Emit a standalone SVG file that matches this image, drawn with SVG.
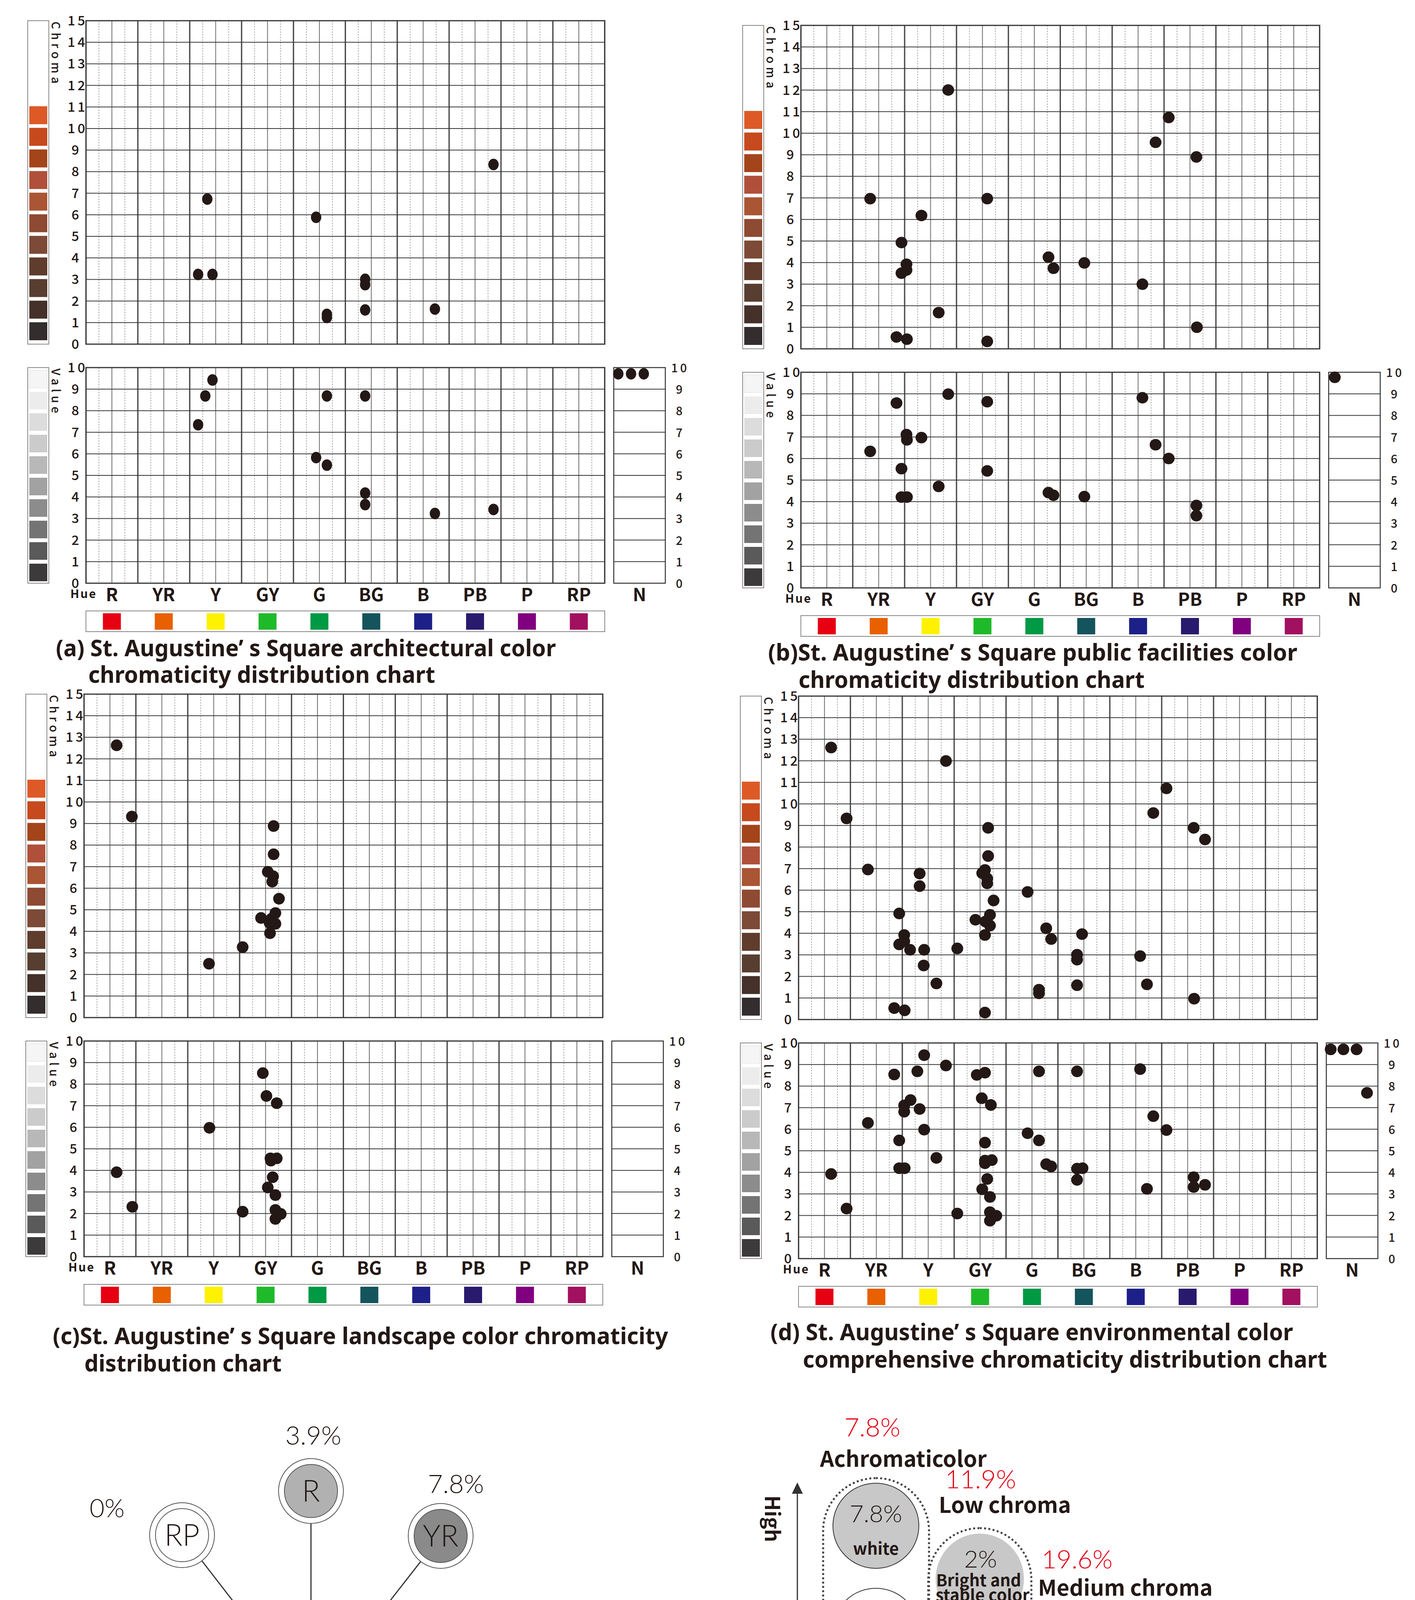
<svg xmlns="http://www.w3.org/2000/svg" xmlns:xlink="http://www.w3.org/1999/xlink" width="3622" height="5414" viewBox="0 0 3622 5414">
<style>
.dot circle{fill:#231815;r:13px}
.cap{font-family:"Noto Sans","Liberation Sans",sans-serif;font-weight:700;font-size:60px;fill:#231815}
.num{font-family:"Noto Sans CJK SC","Noto Sans",sans-serif;font-weight:500;font-size:34px;letter-spacing:6px;fill:#231815}
.hue{font-family:"Noto Sans CJK SC","Noto Sans",sans-serif;font-weight:700;font-size:46px;text-anchor:middle;fill:#231815}
.pct{font-family:"Lato","Liberation Sans",sans-serif;font-weight:300;font-size:66px;text-anchor:middle;fill:#231815}
.red{fill:#e60012}
.lbl{font-family:"Noto Sans CJK SC","Noto Sans",sans-serif;font-weight:700;font-size:42px;text-anchor:middle;fill:#231815}
.hd{font-family:"Noto Sans CJK SC","Noto Sans",sans-serif;font-weight:700;font-size:56px;fill:#231815}
.sat{font-family:"Lato","Liberation Sans",sans-serif;font-weight:300;font-size:76px;text-anchor:middle;fill:#231815}
.pill{fill:none;stroke:#444;stroke-width:5;stroke-dasharray:5 6}
.ln{stroke:#333;stroke-width:3;fill:none}
</style>
<defs>
<pattern id="gridC" patternUnits="userSpaceOnUse" x="0" y="0" width="132.8" height="55.2">
<line x1="0" y1="0" x2="0" y2="55.2" stroke="#333" stroke-width="3"/>
<line x1="132.8" y1="0" x2="132.8" y2="55.2" stroke="#333" stroke-width="3"/>
<line x1="66.4" y1="0" x2="66.4" y2="55.2" stroke="#444" stroke-width="1.6"/>
<line x1="33.2" y1="0" x2="33.2" y2="55.2" stroke="#666" stroke-width="1.2" stroke-dasharray="3.45 3.45"/>
<line x1="99.6" y1="0" x2="99.6" y2="55.2" stroke="#666" stroke-width="1.2" stroke-dasharray="3.45 3.45"/>
<line x1="0" y1="0" x2="132.8" y2="0" stroke="#333" stroke-width="2"/>
<line x1="0" y1="55.2" x2="132.8" y2="55.2" stroke="#333" stroke-width="2"/>
</pattern>
<pattern id="gridV" href="#gridC" xlink:href="#gridC" y="888"/>
<g id="tpl">
<rect x="0" y="0" width="1328" height="828" fill="url(#gridC)" stroke="#333" stroke-width="3"/>
<rect x="0" y="888" width="1328" height="552" fill="url(#gridV)" stroke="#333" stroke-width="3"/>
<rect x="-149" y="0" width="54" height="828" fill="#fff" stroke="#888" stroke-width="2"/>
<rect x="-145" y="219" width="46" height="46" fill="#dd5a26"/>
<rect x="-145" y="274.3" width="46" height="46" fill="#c64a1e"/>
<rect x="-145" y="329.6" width="46" height="46" fill="#a4441a"/>
<rect x="-145" y="384.9" width="46" height="46" fill="#b0503a"/>
<rect x="-145" y="440.2" width="46" height="46" fill="#aa5534"/>
<rect x="-145" y="495.5" width="46" height="46" fill="#8e4a32"/>
<rect x="-145" y="550.8" width="46" height="46" fill="#7c4a36"/>
<rect x="-145" y="606.1" width="46" height="46" fill="#603c2c"/>
<rect x="-145" y="661.4" width="46" height="46" fill="#573e30"/>
<rect x="-145" y="716.7" width="46" height="46" fill="#45312a"/>
<rect x="-145" y="772" width="46" height="46" fill="#332d2d"/>
<rect x="-149" y="888" width="54" height="552" fill="#fff" stroke="#888" stroke-width="2"/>
<rect x="-145" y="895" width="46" height="45" fill="#f5f5f5" stroke="#ddd"/>
<rect x="-145" y="950" width="46" height="45" fill="#ececec"/>
<rect x="-145" y="1005" width="46" height="45" fill="#dcdcdc"/>
<rect x="-145" y="1060" width="46" height="45" fill="#cbcbcb"/>
<rect x="-145" y="1115" width="46" height="45" fill="#b8b8b8"/>
<rect x="-145" y="1170" width="46" height="45" fill="#a2a2a2"/>
<rect x="-145" y="1225" width="46" height="45" fill="#8c8c8c"/>
<rect x="-145" y="1280" width="46" height="45" fill="#747474"/>
<rect x="-145" y="1335" width="46" height="45" fill="#5a5a5a"/>
<rect x="-145" y="1390" width="46" height="45" fill="#3c3a3a"/>
<text class="num" transform="translate(-88,2) rotate(90)" style="font-size:30px;letter-spacing:9px">Chroma</text>
<text class="num" transform="translate(-88,890) rotate(90)" style="font-size:30px;letter-spacing:9px">Value</text>
<g class="num">
<text x="-47" y="12">15</text><text x="-47" y="67.2">14</text><text x="-47" y="122.4">13</text><text x="-47" y="177.6">12</text><text x="-47" y="232.8">11</text><text x="-47" y="288">10</text>
<text x="-37" y="343.2">9</text><text x="-37" y="398.4">8</text><text x="-37" y="453.6">7</text><text x="-37" y="508.8">6</text><text x="-37" y="564">5</text><text x="-37" y="619.2">4</text><text x="-37" y="674.4">3</text><text x="-37" y="729.6">2</text><text x="-37" y="784.8">1</text><text x="-37" y="840">0</text>
<text x="-47" y="900">10</text><text x="-37" y="955.2">9</text><text x="-37" y="1010.4">8</text><text x="-37" y="1065.6">7</text><text x="-37" y="1120.8">6</text><text x="-37" y="1176">5</text><text x="-37" y="1231.2">4</text><text x="-37" y="1286.4">3</text><text x="-37" y="1341.6">2</text><text x="-37" y="1396.8">1</text><text x="-37" y="1452">0</text>
</g>
<g>
<rect x="1351" y="888" width="132" height="552" fill="#fff" stroke="#333" stroke-width="2.5"/>
<path d="M1351 943.2H1483M1351 998.4H1483M1351 1053.6H1483M1351 1108.8H1483M1351 1164H1483M1351 1219.2H1483M1351 1274.4H1483M1351 1329.6H1483M1351 1384.8H1483" stroke="#333" stroke-width="2"/>
<g class="num" style="font-size:30px">
<text x="1498" y="900">10</text><text x="1510" y="955.2">9</text><text x="1510" y="1010.4">8</text><text x="1510" y="1065.6">7</text><text x="1510" y="1120.8">6</text><text x="1510" y="1176">5</text><text x="1510" y="1231.2">4</text><text x="1510" y="1286.4">3</text><text x="1510" y="1341.6">2</text><text x="1510" y="1396.8">1</text><text x="1510" y="1452">0</text>
</g>
</g>
<text class="num" x="-40" y="1478" style="font-size:30px;font-weight:700;letter-spacing:3px">Hue</text>
<g class="hue">
<text x="66.4" y="1486">R</text><text x="199.2" y="1486">YR</text><text x="332" y="1486">Y</text><text x="464.8" y="1486">GY</text><text x="597.6" y="1486">G</text><text x="730.4" y="1486">BG</text><text x="863.2" y="1486">B</text><text x="996" y="1486">PB</text><text x="1128.8" y="1486">P</text><text x="1261.6" y="1486">RP</text><text x="1417" y="1486">N</text>
</g>
<rect x="0" y="1511" width="1328" height="53" fill="#fff" stroke="#888" stroke-width="2"/>
<rect x="43.4" y="1517" width="46" height="42" fill="#e60012"/>
<rect x="176.2" y="1517" width="46" height="42" fill="#e86000"/>
<rect x="309" y="1517" width="46" height="42" fill="#fff100"/>
<rect x="441.8" y="1517" width="46" height="42" fill="#1fba2a"/>
<rect x="574.6" y="1517" width="46" height="42" fill="#009944"/>
<rect x="707.4" y="1517" width="46" height="42" fill="#14545c"/>
<rect x="840.2" y="1517" width="46" height="42" fill="#1d2088"/>
<rect x="973" y="1517" width="46" height="42" fill="#2a1a6e"/>
<rect x="1105.8" y="1517" width="46" height="42" fill="#800080"/>
<rect x="1238.6" y="1517" width="46" height="42" fill="#a21060"/>
</g>
</defs>

<g id="chart-a">
<use href="#tpl" xlink:href="#tpl" x="220" y="53"/>
<g transform="scale(1.0204,1.1351)" class="dot">
<circle cx="520" cy="449" r="13"/><circle cx="497" cy="619" r="13"/><circle cx="533" cy="619" r="13"/><circle cx="793" cy="490" r="13"/><circle cx="820" cy="709" r="13"/><circle cx="820" cy="716" r="13"/><circle cx="916" cy="630" r="13"/><circle cx="916" cy="642" r="13"/><circle cx="916" cy="699" r="13"/><circle cx="1091" cy="697" r="13"/><circle cx="1238" cy="371" r="13"/>
<circle cx="533" cy="857" r="13"/><circle cx="515" cy="893" r="13"/><circle cx="497" cy="958" r="13"/><circle cx="820" cy="893" r="13"/><circle cx="916" cy="893" r="13"/><circle cx="793" cy="1032" r="13"/><circle cx="820" cy="1049" r="13"/><circle cx="916" cy="1112" r="13"/><circle cx="916" cy="1138" r="13"/><circle cx="1091" cy="1158" r="13"/><circle cx="1238" cy="1149" r="13"/>
<circle cx="1551" cy="843" r="13"/><circle cx="1583" cy="843" r="13"/><circle cx="1615" cy="843" r="13"/>
</g>
<text class="cap" x="143" y="1680" textLength="1280" lengthAdjust="spacingAndGlyphs">(a) St. Augustine’ s Square architectural color</text>
<text class="cap" x="226" y="1748" textLength="888" lengthAdjust="spacingAndGlyphs">chromaticity distribution chart</text>
</g>

<g id="chart-b">
<use href="#tpl" xlink:href="#tpl" x="2050" y="65"/>
<g transform="translate(1800,0) scale(1.1614,1.1351)" class="dot">
<circle cx="540" cy="203" r="13"/><circle cx="1026" cy="265" r="13"/><circle cx="997" cy="321" r="13"/><circle cx="1087" cy="354" r="13"/><circle cx="368" cy="448" r="13"/><circle cx="626" cy="448" r="13"/><circle cx="481" cy="486" r="13"/><circle cx="437" cy="547" r="13"/><circle cx="448" cy="596" r="13"/><circle cx="437" cy="616" r="13"/><circle cx="448" cy="609" r="13"/><circle cx="761" cy="580" r="13"/><circle cx="772" cy="605" r="13"/><circle cx="840" cy="593" r="13"/><circle cx="968" cy="641" r="13"/><circle cx="519" cy="705" r="13"/><circle cx="1088" cy="738" r="13"/><circle cx="426" cy="760" r="13"/><circle cx="449" cy="765" r="13"/><circle cx="626" cy="770" r="13"/>
<circle cx="540" cy="889" r="13"/><circle cx="426" cy="909" r="13"/><circle cx="626" cy="906" r="13"/><circle cx="968" cy="897" r="13"/><circle cx="448" cy="980" r="13"/><circle cx="449" cy="992" r="13"/><circle cx="481" cy="987" r="13"/><circle cx="368" cy="1018" r="13"/><circle cx="997" cy="1003" r="13"/><circle cx="1026" cy="1034" r="13"/><circle cx="437" cy="1057" r="13"/><circle cx="626" cy="1062" r="13"/><circle cx="519" cy="1097" r="13"/><circle cx="761" cy="1111" r="13"/><circle cx="772" cy="1117" r="13"/><circle cx="840" cy="1120" r="13"/><circle cx="437" cy="1121" r="13"/><circle cx="449" cy="1121" r="13"/><circle cx="1087" cy="1140" r="13"/><circle cx="1087" cy="1163" r="13"/>
<circle cx="1392" cy="851" r="13"/>
</g>
<text class="cap" x="1966" y="1691" textLength="1355" lengthAdjust="spacingAndGlyphs">(b)St. Augustine’ s Square public facilities  color</text>
<text class="cap" x="2044" y="1761" textLength="886" lengthAdjust="spacingAndGlyphs">chromaticity distribution chart</text>
</g>

<g id="chart-c">
<use href="#tpl" xlink:href="#tpl" x="215" y="1777"/>
<g transform="translate(0,1730) scale(1.1481,1.1481)" class="dot">
<circle cx="260" cy="155" r="13"/><circle cx="294" cy="314" r="13"/><circle cx="610" cy="335" r="13"/><circle cx="610" cy="398" r="13"/><circle cx="597" cy="437" r="13"/><circle cx="609" cy="447" r="13"/><circle cx="607" cy="459" r="13"/><circle cx="622" cy="497" r="13"/><circle cx="614" cy="529" r="13"/><circle cx="582" cy="540" r="13"/><circle cx="605" cy="542" r="13"/><circle cx="601" cy="551" r="13"/><circle cx="614" cy="553" r="13"/><circle cx="602" cy="574" r="13"/><circle cx="541" cy="605" r="13"/><circle cx="466" cy="642" r="13"/>
<circle cx="586" cy="886" r="13"/><circle cx="594" cy="937" r="13"/><circle cx="617" cy="953" r="13"/><circle cx="467" cy="1008" r="13"/><circle cx="603" cy="1076" r="13"/><circle cx="617" cy="1076" r="13"/><circle cx="604" cy="1081" r="13"/><circle cx="260" cy="1107" r="13"/><circle cx="608" cy="1118" r="13"/><circle cx="597" cy="1141" r="13"/><circle cx="614" cy="1158" r="13"/><circle cx="541" cy="1195" r="13"/><circle cx="295" cy="1184" r="13"/><circle cx="614" cy="1191" r="13"/><circle cx="626" cy="1200" r="13"/><circle cx="614" cy="1211" r="13"/>
</g>
<text class="cap" x="135" y="3441" textLength="1575" lengthAdjust="spacingAndGlyphs">(c)St. Augustine’ s Square landscape color chromaticity</text>
<text class="cap" x="216" y="3511" textLength="505" lengthAdjust="spacingAndGlyphs">distribution chart</text>
</g>

<g id="chart-d">
<use href="#tpl" xlink:href="#tpl" x="2044" y="1782"/>
<g transform="translate(1800,1730) scale(1.1614,1.1481)" class="dot">
<circle cx="282" cy="160" r="13"/><circle cx="535" cy="190" r="13"/><circle cx="1021" cy="251" r="13"/><circle cx="316" cy="318" r="13"/><circle cx="992" cy="306" r="13"/><circle cx="628" cy="339" r="13"/><circle cx="1081" cy="339" r="13"/><circle cx="1106" cy="365" r="13"/><circle cx="628" cy="402" r="13"/><circle cx="363" cy="432" r="13"/><circle cx="621" cy="433" r="13"/><circle cx="615" cy="440" r="13"/><circle cx="477" cy="441" r="13"/><circle cx="626" cy="452" r="13"/><circle cx="626" cy="463" r="13"/><circle cx="477" cy="469" r="13"/><circle cx="715" cy="482" r="13"/><circle cx="640" cy="501" r="13"/><circle cx="432" cy="530" r="13"/><circle cx="632" cy="533" r="13"/><circle cx="600" cy="544" r="13"/><circle cx="622" cy="548" r="13"/><circle cx="632" cy="557" r="13"/><circle cx="756" cy="563" r="13"/><circle cx="835" cy="576" r="13"/><circle cx="443" cy="578" r="13"/><circle cx="621" cy="578" r="13"/><circle cx="767" cy="587" r="13"/><circle cx="443" cy="592" r="13"/><circle cx="432" cy="599" r="13"/><circle cx="456" cy="611" r="13"/><circle cx="487" cy="611" r="13"/><circle cx="560" cy="608" r="13"/><circle cx="824" cy="622" r="13"/><circle cx="824" cy="633" r="13"/><circle cx="963" cy="625" r="13"/><circle cx="486" cy="646" r="13"/><circle cx="514" cy="686" r="13"/><circle cx="824" cy="690" r="13"/><circle cx="978" cy="688" r="13"/><circle cx="740" cy="700" r="13"/><circle cx="740" cy="708" r="13"/><circle cx="1082" cy="720" r="13"/><circle cx="421" cy="741" r="13"/><circle cx="444" cy="746" r="13"/><circle cx="621" cy="751" r="13"/>
<circle cx="487" cy="846" r="13"/><circle cx="535" cy="869" r="13"/><circle cx="472" cy="882" r="13"/><circle cx="421" cy="889" r="13"/><circle cx="603" cy="890" r="13"/><circle cx="621" cy="885" r="13"/><circle cx="740" cy="882" r="13"/><circle cx="824" cy="882" r="13"/><circle cx="963" cy="877" r="13"/><circle cx="457" cy="946" r="13"/><circle cx="614" cy="942" r="13"/><circle cx="443" cy="958" r="13"/><circle cx="477" cy="966" r="13"/><circle cx="443" cy="972" r="13"/><circle cx="634" cy="957" r="13"/><circle cx="363" cy="997" r="13"/><circle cx="487" cy="1012" r="13"/><circle cx="992" cy="982" r="13"/><circle cx="1021" cy="1013" r="13"/><circle cx="715" cy="1020" r="13"/><circle cx="621" cy="1041" r="13"/><circle cx="740" cy="1036" r="13"/><circle cx="432" cy="1036" r="13"/><circle cx="514" cy="1075" r="13"/><circle cx="621" cy="1081" r="13"/><circle cx="636" cy="1080" r="13"/><circle cx="621" cy="1087" r="13"/><circle cx="756" cy="1089" r="13"/><circle cx="767" cy="1094" r="13"/><circle cx="824" cy="1099" r="13"/><circle cx="836" cy="1098" r="13"/><circle cx="432" cy="1098" r="13"/><circle cx="444" cy="1098" r="13"/><circle cx="282" cy="1111" r="13"/><circle cx="626" cy="1122" r="13"/><circle cx="824" cy="1124" r="13"/><circle cx="1081" cy="1118" r="13"/><circle cx="615" cy="1145" r="13"/><circle cx="978" cy="1144" r="13"/><circle cx="1081" cy="1140" r="13"/><circle cx="1106" cy="1135" r="13"/><circle cx="632" cy="1162" r="13"/><circle cx="316" cy="1188" r="13"/><circle cx="560" cy="1199" r="13"/><circle cx="632" cy="1196" r="13"/><circle cx="646" cy="1204" r="13"/><circle cx="632" cy="1215" r="13"/>
<circle cx="1383" cy="833" r="13"/><circle cx="1411" cy="833" r="13"/><circle cx="1440" cy="833" r="13"/><circle cx="1463" cy="930" r="13"/>
</g>
<text class="cap" x="1972" y="3431" textLength="1338" lengthAdjust="spacingAndGlyphs">(d) St. Augustine’ s Square environmental color</text>
<text class="cap" x="2055" y="3501" textLength="1342" lengthAdjust="spacingAndGlyphs">comprehensive chromaticity distribution chart</text>
</g>

<g id="chart-e">
<g id="e-connectors" stroke="#333" stroke-width="3">
<line x1="796" y1="4357" x2="796" y2="3817"/>
<line x1="796" y1="4357" x2="1128" y2="3932"/>
<line x1="796" y1="4357" x2="1321" y2="4238"/>
<line x1="796" y1="4357" x2="1303" y2="4542"/>
<line x1="796" y1="4357" x2="1106" y2="4798"/>
<line x1="796" y1="4357" x2="796" y2="4900"/>
<line x1="796" y1="4357" x2="479" y2="4796"/>
<line x1="796" y1="4357" x2="289" y2="4532"/>
<line x1="796" y1="4357" x2="283" y2="4197"/>
<line x1="796" y1="4357" x2="466" y2="3930"/>
</g>
<g id="e-N"><circle cx="796" cy="4357" r="155" fill="#fff" stroke="#333" stroke-width="8"/><circle cx="796" cy="4357" r="118" fill="#fff" stroke="#333" stroke-width="2.5"/>
<text class="pct" x="796" y="4338">7.8%</text><text class="sat" x="793" y="4418">N</text></g>
<g id="e-R"><circle cx="796" cy="3817" r="83" fill="#fff" stroke="#555" stroke-width="2"/><circle cx="796" cy="3817" r="68" fill="#b1b1b1" stroke="#555" stroke-width="2"/><text class="sat" x="796" y="3844">R</text></g>
<g id="e-YR"><circle cx="1128" cy="3932" r="83" fill="#fff" stroke="#555" stroke-width="2"/><circle cx="1128" cy="3932" r="68" fill="#8a8a8a" stroke="#555" stroke-width="2"/><text class="sat" x="1128" y="3959">YR</text></g>
<g id="e-Y"><circle cx="1321" cy="4238" r="83" fill="#fff" stroke="#555" stroke-width="2"/><circle cx="1321" cy="4238" r="68" fill="#5a5a5a" stroke="#555" stroke-width="2"/><text class="sat" x="1321" y="4265" style="fill:#fff">Y</text></g>
<g id="e-GY"><circle cx="1303" cy="4542" r="83" fill="#fff" stroke="#555" stroke-width="2"/><circle cx="1303" cy="4542" r="68" fill="#3e3a3a" stroke="#555" stroke-width="2"/><text class="sat" x="1303" y="4569" style="fill:#fff">GY</text></g>
<g id="e-G"><circle cx="1106" cy="4798" r="83" fill="#fff" stroke="#555" stroke-width="2"/><circle cx="1106" cy="4798" r="68" fill="#777" stroke="#555" stroke-width="2"/><text class="sat" x="1106" y="4825" style="fill:#fff">G</text></g>
<g id="e-BG"><circle cx="796" cy="4900" r="83" fill="#fff" stroke="#555" stroke-width="2"/><circle cx="796" cy="4900" r="68" fill="#878787" stroke="#555" stroke-width="2"/><text class="sat" x="796" y="4927">BG</text></g>
<g id="e-B"><circle cx="479" cy="4796" r="83" fill="#fff" stroke="#555" stroke-width="2"/><circle cx="479" cy="4796" r="68" fill="#a6a6a6" stroke="#555" stroke-width="2"/><text class="sat" x="479" y="4823">B</text></g>
<g id="e-PB"><circle cx="289" cy="4532" r="83" fill="#fff" stroke="#555" stroke-width="2"/><circle cx="289" cy="4532" r="68" fill="#858585" stroke="#555" stroke-width="2"/><text class="sat" x="289" y="4559">PB</text></g>
<g id="e-P"><circle cx="283" cy="4197" r="83" fill="#fff" stroke="#555" stroke-width="2"/><circle cx="283" cy="4197" r="68" fill="#f7f7f7" stroke="#555" stroke-width="2"/><text class="sat" x="283" y="4224">P</text></g>
<g id="e-RP"><circle cx="466" cy="3930" r="83" fill="#fff" stroke="#555" stroke-width="2"/><circle cx="466" cy="3930" r="68" fill="#fff" stroke="#555" stroke-width="2"/><text class="sat" x="466" y="3957">RP</text></g>
<g class="pct">
<text x="802" y="3698">3.9%</text><text x="1167" y="3822">7.8%</text><text x="274" y="3884">0%</text><text x="122" y="4213">0%</text><text x="1519" y="4273">19.6%</text><text x="1515" y="4575">29.4%</text><text x="106" y="4569">7.8%</text><text x="1244" y="4917">9.8%</text><text x="478" y="4958">5.9%</text><text x="796" y="5062">7.8%</text>
</g>
<text class="cap" x="141" y="5303" textLength="1457" lengthAdjust="spacingAndGlyphs">(e) St. Augustine’ s Square environmental color hue</text>
<text class="cap" x="228" y="5371" textLength="833" lengthAdjust="spacingAndGlyphs">proportion distribution chart</text>
</g>

<g id="chart-f">
<g id="f-axes">
<path class="ln" d="M2041 3820V4285M2041 4565V5015M2118 5143H2510M2725 5143H3068"/>
<polygon points="2041,3795 2027,3824 2055,3824" fill="#333"/>
<polygon points="2041,5040 2027,5011 2055,5011" fill="#333"/>
<polygon points="2112,5143 2141,5129 2141,5157" fill="#333"/>
<polygon points="3094,5143 3065,5129 3065,5157" fill="#333"/>
<text class="hd" transform="translate(2032,4428) rotate(90)" text-anchor="middle" style="font-size:52px">Brightness</text>
<text class="hd" transform="translate(1958,3888) rotate(90)" text-anchor="middle" style="font-size:52px">High</text>
<text class="hd" transform="translate(1972,4973) rotate(90)" text-anchor="middle" style="font-size:52px">Low</text>
<text class="hd" x="2615" y="5151" text-anchor="middle" style="font-size:52px">Chroma</text>
<text class="hd" x="2148" y="5212" text-anchor="middle" style="font-size:52px">Low</text>
<text class="hd" x="3084" y="5220" text-anchor="middle" style="font-size:52px">High</text>
</g>
<g id="f-achromatic">
<rect class="pill" x="2107" y="3784" width="271" height="1322" rx="135"/>
<text class="pct red" x="2233" y="3677">7.8%</text>
<text class="hd" x="2099" y="3755">Achromaticolor</text>
<ellipse cx="2242" cy="3906" rx="110" ry="109" fill="#c8c8c8" stroke="#333" stroke-width="2"/>
<text class="pct" x="2242" y="3897" style="font-size:62px">7.8%</text><text class="lbl" x="2242" y="3980">white</text>
<ellipse cx="2242" cy="4175" rx="110" ry="109" fill="#fff" stroke="#333" stroke-width="2"/>
<text class="pct" x="2242" y="4170" style="font-size:62px">0%</text><text class="lbl" x="2250" y="4221">bright</text><text class="lbl" x="2233" y="4262">gray</text>
<ellipse cx="2242" cy="4442" rx="110" ry="109" fill="#fff" stroke="#333" stroke-width="2"/>
<text class="pct" x="2231" y="4429" style="font-size:62px">0%</text><text class="lbl" x="2260" y="4488">medium</text><text class="lbl" x="2221" y="4528">gray</text>
<ellipse cx="2242" cy="4709" rx="110" ry="109" fill="#fff" stroke="#333" stroke-width="2"/>
<text class="pct" x="2238" y="4698" style="font-size:62px">0%</text><text class="lbl" x="2242" y="4755">dark</text><text class="lbl" x="2241" y="4796">gray</text>
<ellipse cx="2242" cy="4971" rx="110" ry="109" fill="#fff" stroke="#333" stroke-width="2"/>
<text class="pct" x="2238" y="4965" style="font-size:62px">0%</text><text class="lbl" x="2233" y="5045">black</text>
</g>
<g id="f-low">
<rect class="pill" x="2376" y="3912" width="264" height="1068" rx="132"/>
<text class="pct red" x="2510" y="3810">11.9%</text>
<text class="hd" x="2403" y="3873">Low chroma</text>
<ellipse cx="2508" cy="4042" rx="113" ry="116" fill="#c8c8c8"/>
<text class="pct" x="2510" y="4013" style="font-size:62px">2%</text><text class="lbl" x="2505" y="4061">Bright and</text><text class="lbl" x="2515" y="4099">stable color</text>
<ellipse cx="2508" cy="4440" rx="113" ry="116" fill="#c8c8c8"/>
<text class="pct" x="2504" y="4410" style="font-size:62px">4%</text><text class="lbl" x="2508" y="4452">Medium</text><text class="lbl" x="2508" y="4490">stable color</text>
<ellipse cx="2508" cy="4847" rx="113" ry="116" fill="#c8c8c8"/>
<text class="pct" x="2523" y="4817" style="font-size:62px">5.9%</text><text class="lbl" x="2505" y="4862">Dark</text><text class="lbl" x="2510" y="4902">stable color</text>
</g>
<g id="f-medium">
<rect class="pill" x="2640" y="4108" width="266" height="672" rx="133"/>
<text class="pct red" x="2757" y="4015">19.6%</text>
<text class="hd" x="2657" y="4085">Medium chroma</text>
<ellipse cx="2771" cy="4236" rx="113" ry="116" fill="#9b9b9b"/>
<text class="pct" x="2759" y="4215" style="font-size:62px">9.8%</text><text class="lbl" x="2771" y="4259">Bright and</text><text class="lbl" x="2771" y="4299">clear color</text>
<ellipse cx="2771" cy="4651" rx="113" ry="116" fill="#9b9b9b"/>
<text class="pct" x="2771" y="4627" style="font-size:62px">9.8%</text><text class="lbl" x="2757" y="4682">dark and</text><text class="lbl" x="2773" y="4721">clear color</text>
</g>
<g id="f-high">
<circle class="pill" cx="3041" cy="4440" r="134"/>
<text class="pct red" x="3040" y="4207">60.8%</text>
<text class="hd" x="2922" y="4270">High chroma</text>
<ellipse cx="3041" cy="4440" rx="117" ry="118" fill="#6b6b6b"/>
<text class="pct" x="3041" y="4443" style="font-size:62px;fill:#fff">60.8%</text><text class="lbl" x="3041" y="4492" style="fill:#fff">bright color</text>
</g>
<text class="cap" x="1974" y="5300" textLength="1466" lengthAdjust="spacingAndGlyphs">(f) St. Augustine’ s Square environmental color tone</text>
<text class="cap" x="2059" y="5368" textLength="870" lengthAdjust="spacingAndGlyphs">proportion classification chart</text>
</g>
</svg>
